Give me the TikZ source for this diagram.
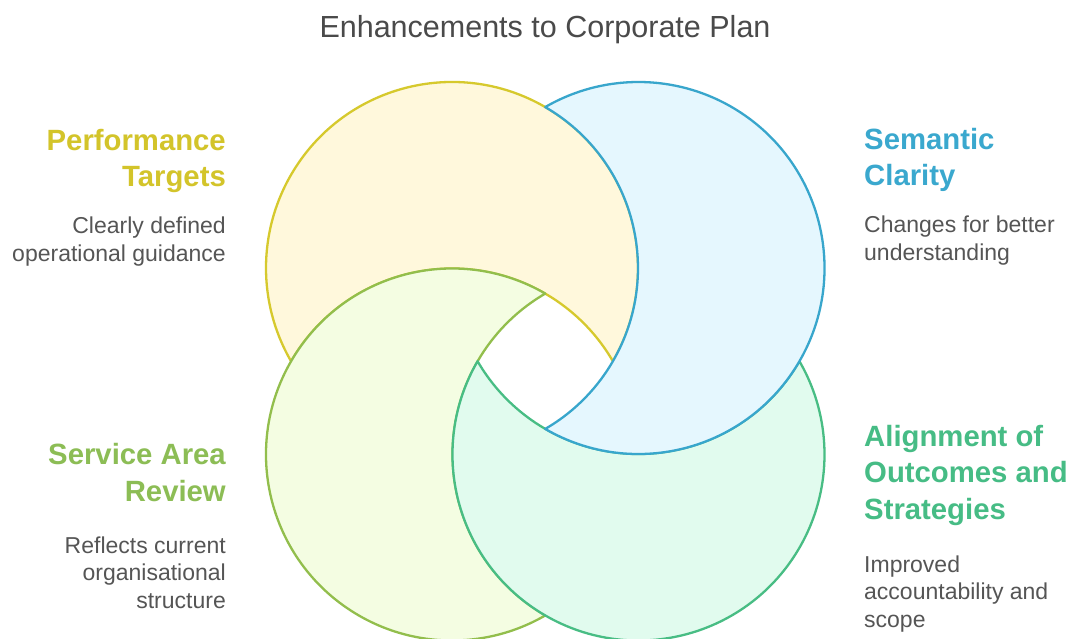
\documentclass[tikz,border=0pt]{standalone}
\usepackage{fontspec}
\setmainfont{Liberation Sans}
\begin{document}
\definecolor{ystroke}{RGB}{214,201,45}
\definecolor{yfill}{RGB}{255,248,220}
\definecolor{bstroke}{RGB}{56,166,204}
\definecolor{bfill}{RGB}{229,247,254}
\definecolor{gstroke}{RGB}{146,190,76}
\definecolor{gfill}{RGB}{244,253,226}
\definecolor{tstroke}{RGB}{72,189,132}
\definecolor{tfill}{RGB}{225,251,238}
\definecolor{ytext}{RGB}{211,196,42}
\definecolor{btext}{RGB}{58,168,206}
\definecolor{gtext}{RGB}{140,189,85}
\definecolor{ttext}{RGB}{70,188,133}
\definecolor{bodytext}{RGB}{85,85,85}
\definecolor{titletext}{RGB}{74,74,74}
\begin{tikzpicture}[x=1pt,y=1pt,
  piece/.style={line width=2.3pt,line join=round},
  heading/.style={inner sep=0pt,font=\fontsize{29.3}{36.5}\selectfont\bfseries},
  body/.style={inner sep=0pt,text=bodytext,font=\fontsize{23}{27.5}\selectfont},
  headL/.style={heading,align=right,anchor=base east},
  headR/.style={heading,align=left,anchor=base west},
  bodyL/.style={body,align=right,anchor=base east},
  bodyR/.style={body,align=left,anchor=base west}]
\useasboundingbox (0,0) rectangle (1068,-639);
\fill[white] (0,0) rectangle (1068,-639);

% ring centres
\def\rad{186}
\def\hal{59.9}
\coordinate (Yc) at (452,-268);
\coordinate (Bc) at (638.5,-268);
\coordinate (Gc) at (452,-454.5);
\coordinate (Tc) at (638.5,-454.5);

% crescent of ring #1 cut by ring #2 lying in direction #3
\newcommand{\crescent}[4]{%
  \path[piece,#4] ([shift={(#3+\hal:\rad)}]#1)
    arc[start angle=#3+\hal, end angle=#3+360-\hal, radius=\rad]
    arc[start angle=#3+180+\hal, end angle=#3+180-\hal, radius=\rad] -- cycle;}

\crescent{Yc}{Gc}{-90}{fill=yfill,draw=ystroke}
\crescent{Gc}{Tc}{0}{fill=gfill,draw=gstroke}
\crescent{Tc}{Bc}{90}{fill=tfill,draw=tstroke}
\crescent{Bc}{Yc}{180}{fill=bfill,draw=bstroke}

% title
\node (title) [inner sep=0pt,anchor=base,text=titletext,font=\fontsize{30.5}{35}\selectfont]
  at (545,-38) {Enhancements to Corporate Plan};

% left column (anchored at the baseline of each block's last line)
\node (h1) [headL,text=ytext] at (226,-187) {Performance\\Targets};
\node (d1) [bodyL] at (226,-261) {Clearly defined\\operational guidance};
\node (h3) [headL,text=gtext] at (226,-501) {Service Area\\Review};
\node (d3) [bodyL] at (226,-608) {Reflects current\\organisational\\structure};

% right column
\node (h2) [headR,text=btext] at (864,-186) {Semantic\\Clarity};
\node (d2) [bodyR] at (864,-260) {Changes for better\\understanding};
\node (h4) [headR,text=ttext] at (864,-519) {Alignment of\\Outcomes and\\Strategies};
\node (d4) [bodyR] at (864,-627) {Improved\\accountability and\\scope};
\end{tikzpicture}
\end{document}
